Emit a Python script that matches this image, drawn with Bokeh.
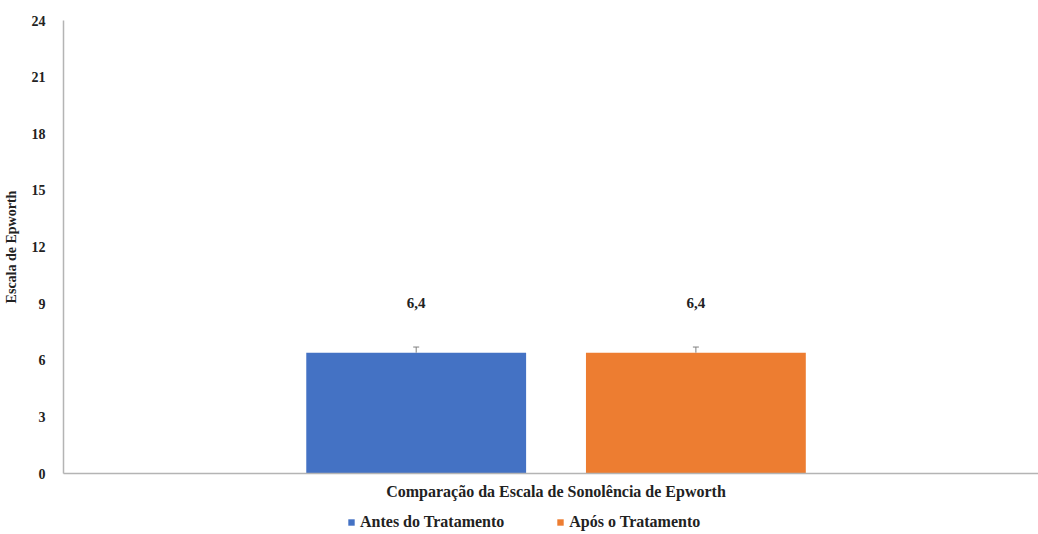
from bokeh.plotting import figure
from bokeh.layouts import column
from bokeh.models import (ColumnDataSource, Range1d, FixedTicker, Legend,
                          LegendItem, Whisker, TeeHead)
from bokeh.core.properties import value
from bokeh.embed import file_html
from bokeh.resources import INLINE

category = "Comparação da Escala de Sonolência de Epworth"
series = ["Antes do Tratamento", "Após o Tratamento"]
means = [6.4, 6.4]
errors = [0.3, 0.3]
value_labels = ["6,4", "6,4"]
colors = ["#4472C4", "#ED7D31"]
y_ticks = [0, 3, 6, 9, 12, 15, 18, 21, 24]

FONT = value("Liberation Serif")
AXIS_GREY = "#b4b4b4"
TEXT = "#222222"

# bars sit side by side around the single category position (0)
n = len(series)
positions = [i - (n - 1) / 2 for i in range(n)]
bar_width = 0.786
x_span = (-1.761, 1.725)

p = figure(width=1038, height=510,
           x_range=Range1d(*x_span), y_range=Range1d(0, 24),
           output_backend="svg", toolbar_location=None,
           min_border_left=62, min_border_right=0,
           min_border_top=20, min_border_bottom=37)
p.outline_line_color = None
p.grid.visible = False
p.background_fill_color = "white"
p.border_fill_color = "white"

sources = []
for pos, m, c in zip(positions, means, colors):
    src = ColumnDataSource(dict(x=[pos], top=[m]))
    sources.append(src)
    p.vbar(x="x", top="top", bottom=0, width=bar_width,
           fill_color=c, line_color=None, source=src)

err_src = ColumnDataSource(dict(
    x=positions,
    lower=means,
    upper=[m + e for m, e in zip(means, errors)],
))
p.add_layout(Whisker(base="x", lower="lower", upper="upper", source=err_src,
                     line_color="#808080", line_width=1,
                     upper_head=TeeHead(size=6, line_color="#808080", line_width=1),
                     lower_head=None, level="overlay"))

lab_src = ColumnDataSource(dict(x=positions, y=means, t=value_labels))
p.text(x="x", y="y", text="t", source=lab_src, y_offset=-50,
       text_font=FONT, text_font_style="bold", text_font_size="15px",
       text_align="center", text_baseline="middle", text_color=TEXT)

# y axis
p.yaxis.ticker = FixedTicker(ticks=y_ticks)
p.yaxis.axis_label = "Escala de Epworth"
p.yaxis.axis_label_text_font = "Liberation Serif"
p.yaxis.axis_label_text_font_style = "bold"
p.yaxis.axis_label_text_font_size = "14px"
p.yaxis.axis_label_text_color = TEXT
p.yaxis.axis_label_standoff = 10
p.yaxis.major_label_text_font = "Liberation Serif"
p.yaxis.major_label_text_font_style = "bold"
p.yaxis.major_label_text_font_size = "14px"
p.yaxis.major_label_text_color = TEXT
p.yaxis.major_label_standoff = 12

# x axis: one category label under the bar pair
p.xaxis.ticker = FixedTicker(ticks=[0])
p.xaxis.major_label_overrides = {0: category}
p.xaxis.axis_label = None
p.xaxis.major_label_text_font = "Liberation Serif"
p.xaxis.major_label_text_font_style = "bold"
p.xaxis.major_label_text_font_size = "16px"
p.xaxis.major_label_text_color = TEXT
p.xaxis.major_label_standoff = 9
p.xaxis.major_tick_out = 0
p.xaxis.major_tick_in = 0

for ax in (p.xaxis, p.yaxis):
    ax.axis_line_color = AXIS_GREY
    ax.axis_line_width = 1.5
    ax.major_tick_line_color = None
    ax.minor_tick_line_color = None

# legend strip under the chart; its bars lie outside the strip's view
lg = figure(width=1038, height=24,
            x_range=Range1d(*x_span), y_range=Range1d(100, 101),
            x_axis_type=None, y_axis_type=None,
            output_backend="svg", toolbar_location=None,
            min_border=0)
lg.outline_line_color = None
lg.grid.visible = False
items = []
for name, src, c in zip(series, sources, colors):
    r = lg.vbar(x="x", top="top", bottom=0, width=bar_width,
                fill_color=c, line_color=None, source=src)
    items.append(LegendItem(label=name, renderers=[r]))

legend = Legend(items=items, orientation="horizontal", location=(284, 3),
                label_text_font="Liberation Serif", label_text_font_style="bold",
                label_text_font_size="16px", label_text_color=TEXT,
                glyph_width=8, glyph_height=8, spacing=52, label_standoff=5,
                border_line_color=None, background_fill_alpha=0,
                padding=0, margin=0, label_height=14)
lg.add_layout(legend, "center")

layout = column(p, lg, spacing=0)
open("out.html", "w").write(file_html(layout, INLINE))
